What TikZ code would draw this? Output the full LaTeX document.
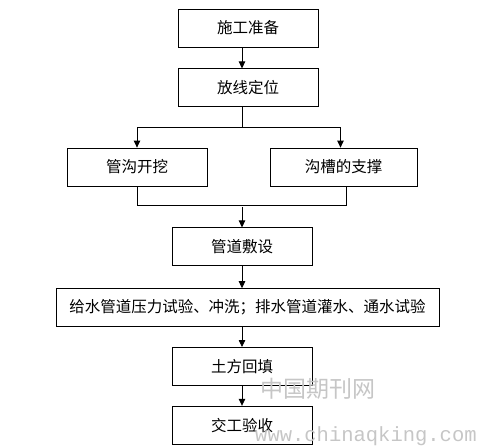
\documentclass[tikz,border=0pt]{standalone}
\usepackage{fontspec}
\newfontfamily\cjk{Noto Sans CJK SC}
\newfontfamily\markmono{Liberation Mono}
\usepackage{tikz}
\usetikzlibrary{positioning,arrows.meta,calc}

\begin{document}
\begin{tikzpicture}[x=1pt,y=1pt,node distance=20pt and 20pt,
  box/.style={draw,line width=0.8pt,minimum width=140pt,minimum height=38pt,inner sep=0pt,align=center,font=\cjk\fontsize{15.5}{18}\selectfont},
  arr/.style={-{Triangle[length=7pt,width=6.5pt]},line width=0.8pt},
  link/.style={line width=0.8pt},
  wmark/.style={text=gray!45,inner sep=0pt}]
\useasboundingbox (0,0) rectangle (485,-447);
\node[box] (prep) at (248,-28) {施工准备};
\node[box,below=21pt of prep] (survey) {放线定位};
\node[box] (dig) at (137,-167) {管沟开挖};
\node[box,minimum width=147pt] (shore) at (343.5,-167) {沟槽的支撑};
\node[box,below=41pt of dig.south -| survey.south,xshift=-6pt] (lay) {管道敷设};
\node[box,minimum width=383pt,below=22pt of lay,xshift=5.5pt] (test) {给水管道压力试验、冲洗；排水管道灌水、通水试验};
\node[box,below=20pt of test.south -| lay.south] (fill) {土方回填};
\node[box,below=20pt of fill] (accept) {交工验收};
% watermark
\node[wmark,font=\cjk\fontsize{23}{24}\selectfont] (wmcn) at (318,-389) {中国期刊网};
\node[wmark,font=\markmono\fontsize{20.5}{22}\selectfont,anchor=base west] (wmurl) at (255,-441) {www.chinaqking.com};
% connectors
\draw[arr] (prep.south -| lay.north) -- (survey.north -| lay.north);
\draw[link] (survey.south -| lay.north) -- ++(0,-20) coordinate (split);
\draw[arr] (split) -| (dig.north);
\draw[arr] (split) -| ([xshift=-3pt]shore.north);
\draw[link] (dig.south) -- ++(0,-19) coordinate (merge) -| ([xshift=3pt]shore.south);
\draw[arr] ([yshift=-2pt]merge -| lay.north) -- (lay.north);
\draw[arr] (lay.south) -- (test.north -| lay.south);
\draw[arr] (test.south -| fill.north) -- (fill.north);
\draw[arr] (fill.south) -- (accept.north);
\end{tikzpicture}
\end{document}
